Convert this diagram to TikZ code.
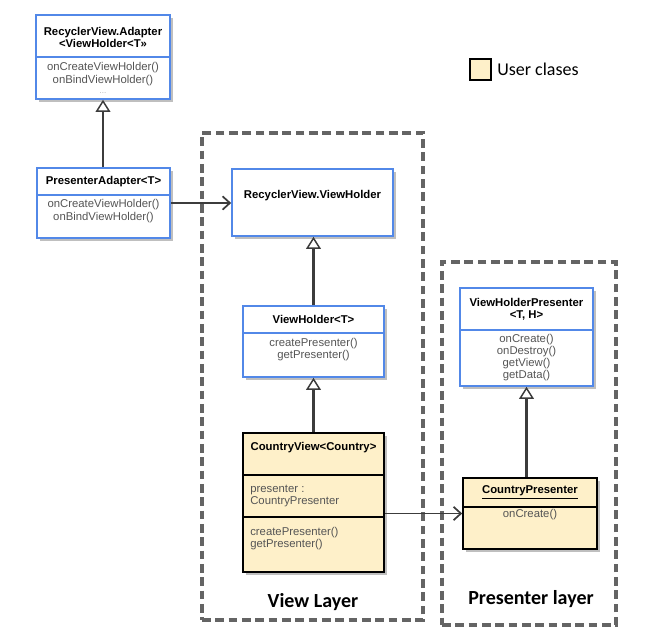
\documentclass[tikz,border=0pt]{standalone}
\usepackage{fontspec}
\setmainfont{Liberation Sans}
\newfontfamily\calibri{Carlito}
\usetikzlibrary{arrows.meta,fit,shadows,calc}

\definecolor{umlblue}{RGB}{82,136,232}
\definecolor{userfill}{RGB}{254,240,201}
\definecolor{layergray}{RGB}{100,100,100}
\definecolor{linkgray}{RGB}{60,60,60}
\definecolor{optext}{RGB}{85,85,85}

\tikzset{
  classbox/.style={inner sep=0pt, line width=1.2pt,
    drop shadow={shadow xshift=2.5pt, shadow yshift=-2.5pt, fill=black, opacity=0.25}},
  libbox/.style={classbox, draw=umlblue, fill=white},
  userbox/.style={classbox, draw=black, fill=userfill},
  libline/.style={draw=umlblue, line width=1.2pt},
  userline/.style={draw=black, line width=1.2pt},
  head/.style={font=\bfseries\fontsize{8.5}{9}\selectfont, align=center, inner sep=0pt},
  ops/.style={font=\fontsize{8.5}{9.5}\selectfont, text=optext, align=center, inner sep=0pt},
  layer/.style={draw=layergray, line width=2.3pt, dash pattern=on 6.5pt off 3.5pt, inner sep=0pt},
  layername/.style={font=\calibri\bfseries\fontsize{15}{17}\selectfont, inner sep=0pt},
  extends/.style={draw=linkgray, line width=1.6pt, -{Triangle[open, length=9pt, width=11pt, line width=1.1pt]}},
  uses/.style={draw=linkgray, line width=1.3pt, -{Straight Barb[length=5.5pt, width=10pt]}},
}

\begin{document}
\begin{tikzpicture}[x=0.75pt,y=-0.75pt]
\useasboundingbox (0,0) rectangle (650,630);

% layers
\node[layer, fit={(202,133) (423,620)}] (viewlayer) {};
\node[layer, fit={(442,262) (616,625)}] (presenterlayer) {};
\node[layername] (viewlabel) at (313,602) {View Layer};
\node[layername] (presenterlabel) at (531,599) {Presenter layer};

% legend
\node[draw=black, line width=0.8pt, fill=userfill, inner sep=0pt, fit={(470,59) (491,80)}] (userkey) {};
\node[font=\calibri\fontsize{13.5}{15}\selectfont, anchor=west, inner sep=0pt] (userlabel) at (497,69.5) {User clases};

% RecyclerView.Adapter
\node[libbox, fit={(36,15) (170,99)}] (adapter) {};
\draw[libline] (adapter.west |- 0,57) -- (adapter.east |- 0,57);
\node[head] (adapterName) at (103,37.5) {RecyclerView.Adapter\\<ViewHolder<T>>};
\node[ops] (adapterOps) at (103,74) {onCreateViewHolder()\\onBindViewHolder()};
\node[ops, text=gray!60, font=\fontsize{6}{7}\selectfont] (adapterMore) at (103,93) {...};

% PresenterAdapter
\node[libbox, fit={(37,168) (170,238)}] (padapter) {};
\draw[libline] (padapter.west |- 0,195) -- (padapter.east |- 0,195);
\node[head] (padapterName) at (103.5,182) {PresenterAdapter<T>};
\node[ops] (padapterOps) at (103.5,211) {onCreateViewHolder()\\onBindViewHolder()};

% RecyclerView.ViewHolder
\node[libbox, fit={(232,169) (393,236)}] (rvh) {};
\node[head] (rvhName) at (312.5,196) {RecyclerView.ViewHolder};

% ViewHolder<T>
\node[libbox, fit={(243,306) (384,377)}] (vh) {};
\draw[libline] (vh.west |- 0,333) -- (vh.east |- 0,333);
\node[head] (vhName) at (313.5,319.5) {ViewHolder<T>};
\node[ops] (vhOps) at (313.5,349.5) {createPresenter()\\getPresenter()};

% CountryView<Country>
\node[userbox, fit={(243,433) (384,572)}] (cv) {};
\draw[userline] (cv.west |- 0,475) -- (cv.east |- 0,475);
\draw[userline] (cv.west |- 0,517) -- (cv.east |- 0,517);
\node[head] (cvName) at (313.5,448) {CountryView<Country>};
\node[ops, align=left, anchor=west] (cvAttr) at (250,496) {presenter :\\CountryPresenter};
\node[ops, align=left, anchor=west] (cvOps) at (250,538.5) {createPresenter()\\getPresenter()};

% ViewHolderPresenter<T, H>
\node[libbox, fit={(460,288) (593,386)}] (vhp) {};
\draw[libline] (vhp.west |- 0,330) -- (vhp.east |- 0,330);
\node[head] (vhpName) at (526.5,309) {ViewHolderPresenter\\<T, H>};
\node[ops, font=\fontsize{8.5}{9}\selectfont] (vhpOps) at (526.5,357.5) {onCreate()\\onDestroy()\\getView()\\getData()};

% CountryPresenter
\node[userbox, fit={(463,478) (597,549)}] (cp) {};
\draw[userline] (cp.west |- 0,507) -- (cp.east |- 0,507);
\node[head] (cpName) at (530,492.5) {\underline{CountryPresenter}};
\node[ops] (cpOps) at (530,515) {onCreate()};

% relations
\draw[extends] (padapter.north -| adapter.south) -- (adapter.south);
\draw[extends] (vh.north) -- (vh.north |- rvh.south);
\draw[extends] (cv.north) -- (cv.north |- vh.south);
\draw[extends] (vhp.south |- cp.north) -- (vhp.south);
\draw[uses] (padapter.east) -- (rvh.west |- padapter.east);
\draw[uses] (cv.east |- cp.west) -- (cp.west);
\end{tikzpicture}
\end{document}
